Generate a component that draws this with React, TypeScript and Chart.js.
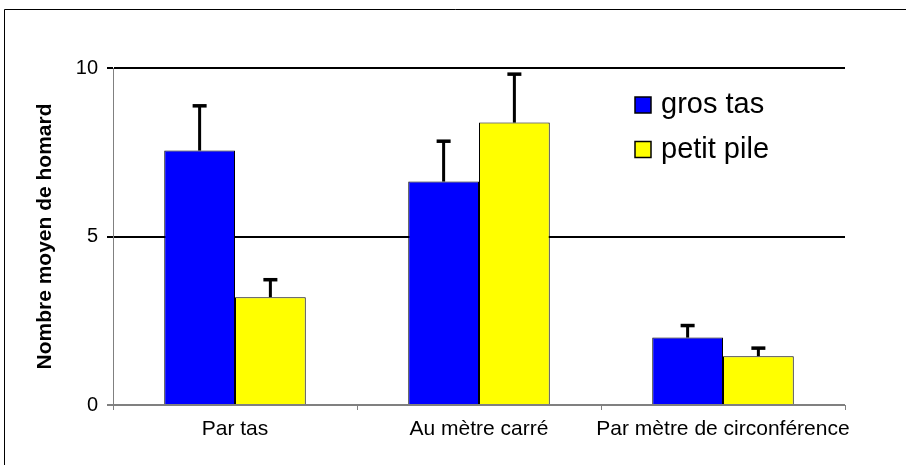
import React, { useEffect, useRef } from "react";
import { Chart, registerables } from "chart.js";

Chart.register(...registerables);

const categories = ["Par tas", "Au mètre carré", "Par mètre de circonférence"];
const seriesLabels = ["gros tas", "petit pile"];
const grosTas = [7.55, 6.63, 2.0];
const petitPile = [3.2, 8.38, 1.45];
const grosTasErr = [1.35, 1.22, 0.38];
const petitPileErr = [0.54, 1.46, 0.26];
const yTicks = [0, 5, 10];

const BLUE = "#0000FF";
const YELLOW = "#FFFF00";
const FONT = "'Liberation Sans', Arial, sans-serif";

const errors = [grosTasErr, petitPileErr];

const framePlugin = {
  id: "frame",
  beforeDraw(chart: any) {
    const ctx = chart.ctx;
    ctx.save();
    ctx.fillStyle = "#ffffff";
    ctx.fillRect(0, 0, chart.width, chart.height);
    ctx.strokeStyle = "#000000";
    ctx.lineWidth = 1;
    ctx.beginPath();
    ctx.moveTo(4.5, chart.height + 2);
    ctx.lineTo(4.5, 9.5);
    ctx.lineTo(chart.width + 2, 9.5);
    ctx.stroke();
    ctx.restore();
  },
};

const errorBarPlugin = {
  id: "errorBars",
  afterDatasetsDraw(chart: any) {
    const ctx = chart.ctx;
    const yScale = chart.scales.y;
    ctx.save();
    chart.data.datasets.forEach((ds: any, i: number) => {
      const meta = chart.getDatasetMeta(i);
      meta.data.forEach((el: any, j: number) => {
        const v = ds.data[j];
        const e = errors[i][j];
        const yTop = yScale.getPixelForValue(v);
        const yErr = yScale.getPixelForValue(v + e);
        ctx.fillStyle = "#000000";
        ctx.fillRect(el.x - 1.5, yErr, 3, yTop - yErr);
        ctx.fillRect(el.x - 7, yErr - 1, 14, 3.5);
      });
    });
    ctx.restore();
  },
};

const legendPlugin = {
  id: "customLegend",
  afterDraw(chart: any) {
    const ctx = chart.ctx;
    ctx.save();
    const items = chart.data.datasets.map((ds: any) => ({
      label: ds.label,
      color: ds.backgroundColor,
    }));
    const rows = [105, 149.5];
    items.forEach((it: any, i: number) => {
      const cy = rows[i];
      ctx.fillStyle = it.color;
      ctx.fillRect(635, cy - 8, 16, 16);
      ctx.strokeStyle = "#000000";
      ctx.lineWidth = 1.5;
      ctx.strokeRect(635, cy - 8, 16, 16);
      ctx.fillStyle = "#000000";
      ctx.font = `29px ${FONT}`;
      ctx.textBaseline = "middle";
      ctx.textAlign = "left";
      ctx.fillText(it.label, 661, cy);
    });
    ctx.restore();
  },
};

function App() {
  const canvasRef = useRef<HTMLCanvasElement | null>(null);

  useEffect(() => {
    const canvas = canvasRef.current;
    if (!canvas) return;
    const chart = new Chart(canvas, {
      type: "bar",
      data: {
        labels: categories,
        datasets: [
          {
            label: seriesLabels[0],
            data: grosTas,
            backgroundColor: BLUE,
            borderColor: "#000000",
            borderWidth: 1,
            barPercentage: 1,
            categoryPercentage: 0.58,
          },
          {
            label: seriesLabels[1],
            data: petitPile,
            backgroundColor: YELLOW,
            borderColor: "#000000",
            borderWidth: 1,
            barPercentage: 1,
            categoryPercentage: 0.58,
          },
        ],
      },
      options: {
        responsive: false,
        animation: false,
        devicePixelRatio: 1,
        layout: { padding: { left: 0, right: 61, top: 68, bottom: 0 } },
        plugins: {
          legend: { display: false },
          tooltip: { enabled: false },
        },
        scales: {
          x: {
            afterFit(scale: any) {
              scale.height = 60;
            },
            border: { color: "#808080", width: 1 },
            grid: {
              offset: true,
              drawOnChartArea: false,
              color: "#808080",
              tickLength: 5,
            },
            ticks: {
              color: "#000000",
              font: { family: FONT, size: 21 },
              padding: 7,
              maxRotation: 0,
              autoSkip: false,
            },
          },
          y: {
            min: 0,
            max: 10,
            afterFit(scale: any) {
              scale.width = 113;
            },
            afterBuildTicks(scale: any) {
              scale.ticks = yTicks.map((v) => ({ value: v }));
            },
            border: { color: "#808080", width: 1 },
            grid: {
              color: (c: any) => (c.tick && c.tick.value === 0 ? "#808080" : "#000000"),
              tickColor: (c: any) => (c.tick && c.tick.value === 0 ? "#808080" : "#000000"),
              lineWidth: 2,
              tickLength: 6,
            },
            ticks: {
              color: "#000000",
              font: { family: FONT, size: 20 },
              padding: 9,
            },
            title: {
              display: true,
              text: "Nombre moyen de homard",
              color: "#000000",
              font: { family: FONT, size: 21, weight: "bold" },
              padding: { top: 33, bottom: 0 },
            },
          },
        },
      },
      plugins: [framePlugin, errorBarPlugin, legendPlugin],
    });
    return () => chart.destroy();
  }, []);

  return (
    <div style={{ position: "fixed", left: 0, top: 0, width: 906, height: 465, background: "#fff" }}>
      <canvas ref={canvasRef} width={906} height={465} style={{ display: "block", width: 906, height: 465 }} />
    </div>
  );
}

export default App;
